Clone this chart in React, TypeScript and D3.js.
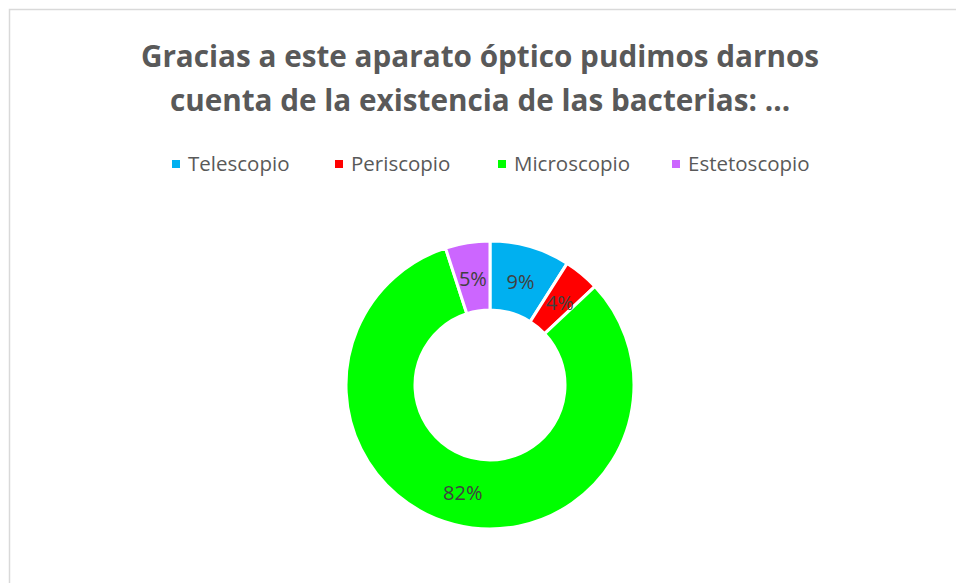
import React, { useEffect, useRef } from 'react';
import * as d3 from 'd3';

const titleLines = ['Gracias a este aparato óptico pudimos darnos', 'cuenta de la existencia de las bacterias: ...'];
const categories = ['Telescopio', 'Periscopio', 'Microscopio', 'Estetoscopio'];
const values = [9, 4, 82, 5];
const colors = ['#00b0f0', '#ff0000', '#00ff00', '#cc66ff'];
const legendX = [172, 335, 498, 672];

const W = 956;
const H = 583;

export default function App() {
  const svgRef = useRef<SVGSVGElement>(null);

  useEffect(() => {
    if (!svgRef.current) return;
    const svg = d3.select(svgRef.current);
    svg.selectAll('*').remove();

    // cadre du graphique
    svg.append('rect')
      .attr('x', 9.5).attr('y', 9.5)
      .attr('width', W + 20).attr('height', H + 20)
      .attr('fill', '#fff')
      .attr('stroke', '#d9d9d9')
      .attr('stroke-width', 1.5);

    // titre
    svg.append('g')
      .selectAll('text')
      .data(titleLines)
      .join('text')
      .attr('x', 480)
      .attr('y', (_, i) => 67 + i * 44)
      .attr('text-anchor', 'middle')
      .attr('font-family', '"Open Sans", sans-serif')
      .attr('font-weight', 700)
      .attr('font-size', 29.7)
      .attr('fill', '#595959')
      .text(d => d);

    // légende
    const legend = svg.append('g')
      .selectAll('g')
      .data(categories)
      .join('g')
      .attr('transform', (_, i) => `translate(${legendX[i]},164)`);
    legend.append('rect')
      .attr('x', 0).attr('y', -4)
      .attr('width', 8).attr('height', 8)
      .attr('fill', (_, i) => colors[i]);
    legend.append('text')
      .attr('x', 16).attr('y', 7)
      .attr('font-family', '"Open Sans", sans-serif')
      .attr('font-size', 20.5)
      .attr('fill', '#595959')
      .text(d => d);

    // anneau
    const cx = 490, cy = 385;
    const outer = 144, inner = 75;
    const pie = d3.pie<number>().sort(null).value(d => d);
    const arcs = pie(values);
    const arc = d3.arc<d3.PieArcDatum<number>>().innerRadius(inner).outerRadius(outer);
    const total = d3.sum(values);

    const g = svg.append('g').attr('transform', `translate(${cx},${cy})`);
    g.selectAll('path')
      .data(arcs)
      .join('path')
      .attr('d', arc)
      .attr('fill', (_, i) => colors[i])
      .attr('stroke', '#fff')
      .attr('stroke-width', 3)
      .attr('stroke-linejoin', 'miter');

    g.selectAll('text')
      .data(arcs)
      .join('text')
      .attr('transform', d => `translate(${arc.centroid(d)})`)
      .attr('text-anchor', 'middle')
      .attr('dy', '0.45em')
      .attr('font-family', '"Open Sans", sans-serif')
      .attr('font-size', 20)
      .attr('fill', '#404040')
      .text(d => `${Math.round((d.value / total) * 100)}%`);
  }, []);

  return (
    <svg
      ref={svgRef}
      width={W}
      height={H}
      style={{ position: 'absolute', left: 0, top: 0, background: '#fff' }}
    />
  );
}
